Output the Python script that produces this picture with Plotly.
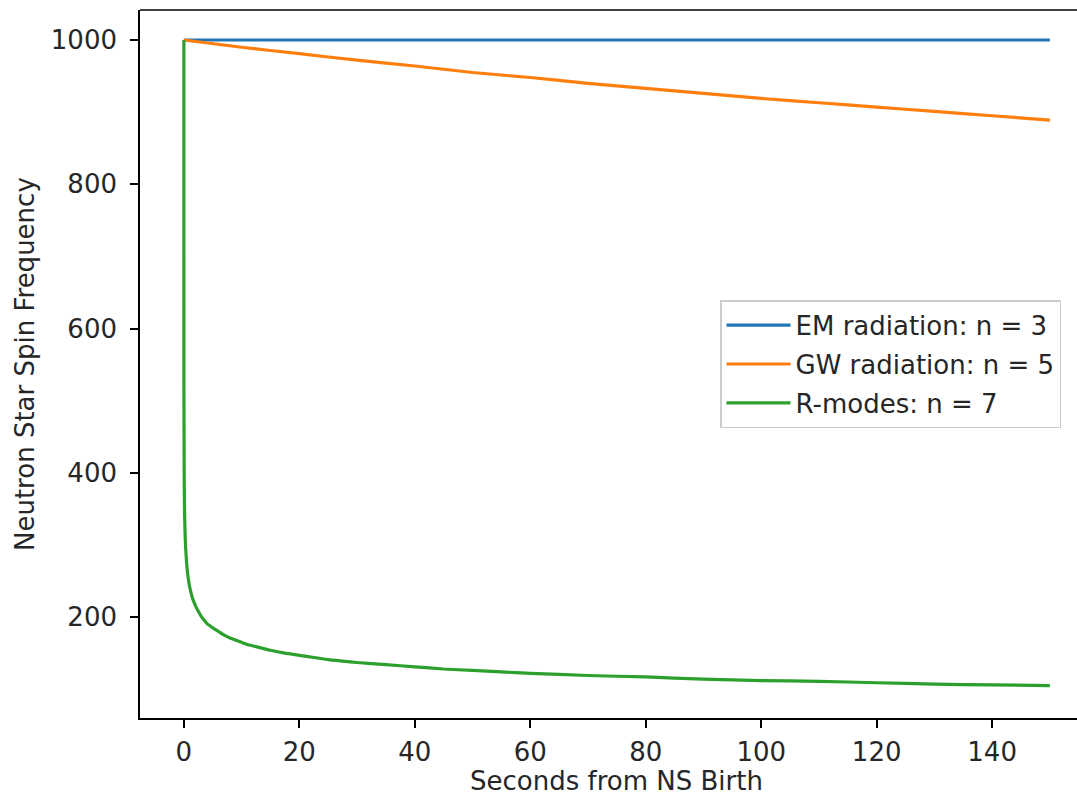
import plotly.graph_objects as go

# ---- data ----
series_names = ["EM radiation: n = 3", "GW radiation: n = 5", "R-modes: n = 7"]
series_colors = ["#1f77b4", "#ff7f0e", "#2ca02c"]

em_t = [0, 50, 100, 150]
em_f = [1000, 1000, 1000, 1000]

gw_t = [0, 10, 20, 30, 40, 50, 60, 70, 80, 90, 100, 110, 120, 130, 140, 150]
gw_f = [1000, 990, 981, 972, 964, 955, 948, 940, 933, 926, 919, 913, 907, 901, 895, 889]

rm_t = [0, 0.001, 0.01, 0.05, 0.1, 0.2, 0.3, 0.5, 0.7, 1, 1.5, 2, 2.5, 3, 3.5, 4, 4.5, 5,
        6, 7, 8, 9, 10, 11, 12, 13, 15, 17.5, 20, 22.5, 25, 27.5, 30, 35, 40, 45, 50, 55,
        60, 70, 80, 90, 100, 110, 120, 130, 140, 150]
rm_f = [1000, 740, 520, 400, 355, 317, 297, 272, 257, 242, 226, 216, 208, 201, 196, 191,
        188, 185, 180, 175, 171, 168, 165, 162, 160, 158, 154, 150, 147, 144, 141, 139,
        137, 134, 131, 128, 126, 124, 122, 119, 117, 114, 112, 111, 109, 107, 106, 105]

x_ticks = [0, 20, 40, 60, 80, 100, 120, 140]
y_ticks = [200, 400, 600, 800, 1000]

x_label = "Seconds from NS Birth"
y_label = "Neutron Star Spin Frequency"

FONT = "DejaVu Sans"
FS = 26
TXT = "#262626"

fig = go.Figure()
for i, (t, f) in enumerate([(em_t, em_f), (gw_t, gw_f), (rm_t, rm_f)]):
    fig.add_trace(go.Scatter(
        x=t, y=f, mode="lines", name=series_names[i],
        line=dict(color=series_colors[i], width=3.2, shape="spline", smoothing=0.4),
        legendgroup=f"g{i}",
    ))

fig.update_layout(
    width=1077, height=798,
    margin=dict(l=140, r=0, t=10, b=80),
    paper_bgcolor="white", plot_bgcolor="white",
    font=dict(family=FONT, size=FS, color=TXT),
    showlegend=True,
    legend=dict(
        x=0.619, y=0.590, xanchor="left", yanchor="top",
        bgcolor="rgba(255,255,255,0.8)", bordercolor="#cccccc", borderwidth=1.5,
        font=dict(family=FONT, size=FS, color=TXT),
        tracegroupgap=2, itemwidth=64,
    ),
    xaxis=dict(
        range=[-7.6, 154.7], tickvals=x_ticks, ticktext=[str(v) for v in x_ticks],
        showgrid=False, zeroline=False, showline=True, linecolor="black", linewidth=1.6,
        ticks="outside", ticklen=8, tickwidth=1.6, tickcolor="black",
        ticklabelstandoff=2,
    ),
    yaxis=dict(
        range=[60.1, 1041.6], tickvals=y_ticks, ticktext=[str(v) for v in y_ticks],
        showgrid=False, zeroline=False, showline=True, linecolor="black", linewidth=1.6,
        ticks="outside", ticklen=8, tickwidth=1.6, tickcolor="black",
        ticklabelstandoff=8,
    ),
    shapes=[
        dict(type="line", xref="paper", yref="paper", x0=0, x1=1, y0=1, y1=1,
             line=dict(color="black", width=1.6)),
    ],
    annotations=[
        dict(text=x_label, xref="x", yref="paper", x=75, y=0, yshift=-63,
             showarrow=False, xanchor="center", yanchor="middle",
             font=dict(family=FONT, size=FS, color=TXT)),
        dict(text=y_label, xref="paper", yref="paper", x=0, xshift=-115, y=0.5,
             showarrow=False, textangle=-90, xanchor="center", yanchor="middle",
             font=dict(family=FONT, size=FS, color=TXT)),
    ],
)

fig.write_html(
    "out.html",
    config={"displayModeBar": False},
    post_script="document.body.style.margin='0';document.body.style.overflow='hidden';",
)
